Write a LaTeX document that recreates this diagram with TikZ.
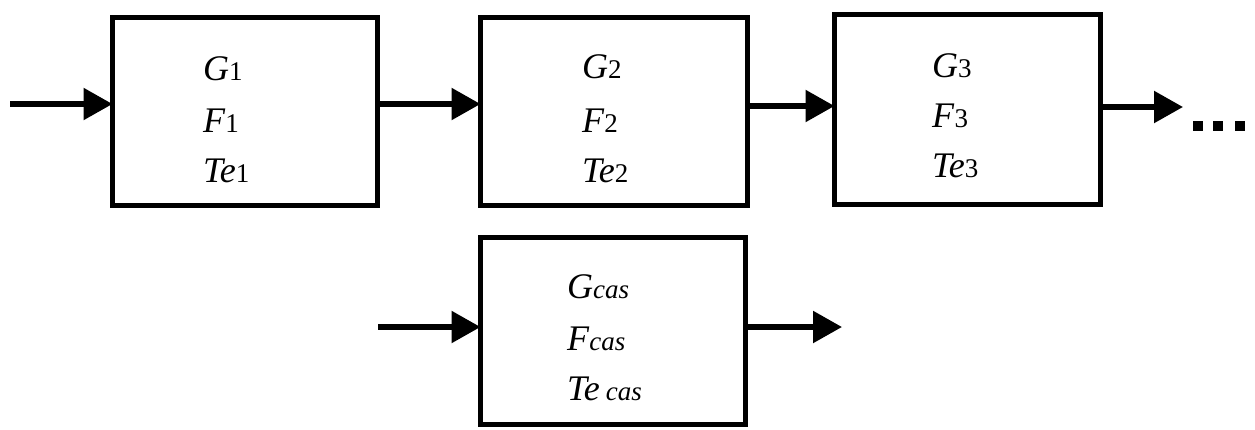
\documentclass[tikz,border=0pt]{standalone}
\usepackage{fontspec}
\setmainfont{Liberation Serif}
\usetikzlibrary{arrows.meta}
\newcommand{\mysub}[1]{{\fontsize{27}{27}\selectfont #1}}
\newcommand{\mysubi}[1]{{\fontsize{27}{27}\selectfont\itshape #1}}
\begin{document}
\begin{tikzpicture}[x=1pt,y=-1pt,
  box/.style={draw, line width=5pt, outer sep=0pt, inner sep=0pt},
  arr/.style={line width=5.5pt, -{Triangle[length=29pt,width=31pt]}},
  lbl/.style={anchor=base west, inner sep=0pt, font=\fontsize{36}{36}\selectfont},
  dot/.style={fill, minimum size=10pt, inner sep=0pt, outer sep=0pt}]
\useasboundingbox (0,0) rectangle (1255,429);
% boxes
\node[box, minimum width=265pt, minimum height=188pt] (b1) at (245,111.5) {};
\node[box, minimum width=267pt, minimum height=188pt] (b2) at (614,111.5) {};
\node[box, minimum width=266pt, minimum height=190pt] (b3) at (967.5,109.5) {};
\node[box, minimum width=265pt, minimum height=187pt] (b4) at (613,331) {};
% labels
\node[lbl] (g1) at (203,80) {\textit{G}\mysub{1}};
\node[lbl] (f1) at (203,132) {\textit{F}\mysub{1}};
\node[lbl] (t1) at (203,182) {\textit{Te}\mysub{1}};
\node[lbl] (g2) at (582,78) {\textit{G}\mysub{2}};
\node[lbl] (f2) at (582,132) {\textit{F}\mysub{2}};
\node[lbl] (t2) at (582,182) {\textit{Te}\mysub{2}};
\node[lbl] (g3) at (932,77) {\textit{G}\mysub{3}};
\node[lbl] (f3) at (932,127) {\textit{F}\mysub{3}};
\node[lbl] (t3) at (932,177) {\textit{Te}\mysub{3}};
\node[lbl] (g4) at (567,298) {\textit{G}\mysubi{cas}};
\node[lbl] (f4) at (567,350) {\textit{F}\mysubi{cas}};
\node[lbl] (t4) at (567,400) {\textit{Te}\,\mysubi{cas}};
% connectors
\coordinate (in1) at (10,104);
\coordinate (out3) at (1183,107);
\coordinate (in4) at (378,327);
\coordinate (out4) at (842,327);
\draw[arr] (in1) -- (in1 -| b1.west);
\draw[arr] (b1.east |- in1) -- (b2.west |- in1);
\draw[arr] ([yshift=-2pt]b2.east |- in1) -- ([yshift=-2pt]b3.west |- in1);
\draw[arr] (b3.east |- out3) -- (out3);
\draw[arr] (in4) -- (in4 -| b4.west);
\draw[arr] (b4.east |- out4) -- (out4);
% continuation dots
\node[dot] (d1) at (1197.5,125.5) {};
\node[dot] (d2) at (1218,125.5) {};
\node[dot] (d3) at (1240,125.5) {};
\end{tikzpicture}
\end{document}
